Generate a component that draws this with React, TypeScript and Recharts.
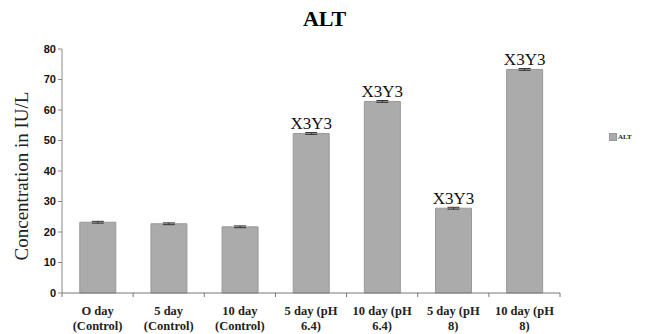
import { BarChart, Bar, XAxis, YAxis, ErrorBar, LabelList, Legend } from 'recharts'

const categories = ['O day|(Control)', '5 day|(Control)', '10 day|(Control)', '5 day (pH|6.4)', '10 day (pH|6.4)', '5 day (pH|8)', '10 day (pH|8)']
const altValues = [23.2, 22.7, 21.7, 52.3, 62.8, 27.8, 73.3]
const altErrors = [0.3, 0.3, 0.3, 0.3, 0.3, 0.3, 0.3]
const groupLabels = ['', '', '', 'X3Y3', 'X3Y3', 'X3Y3', 'X3Y3']
const yTicks = [0, 10, 20, 30, 40, 50, 60, 70, 80]
const boundaryTicks = [0, 1, 2, 3, 4, 5, 6, 7]

const data = categories.map((c, i) => ({
  name: c,
  ALT: altValues[i],
  err: altErrors[i],
  tag: groupLabels[i],
  pos: i + 0.5,
}))

const serif = '"Liberation Serif", "DejaVu Serif", serif'
const sans = '"Liberation Sans", Arial, sans-serif'

const CategoryTick = (props: any) => {
  const { x, y, payload } = props
  const lines = String(payload.value).split('|')
  return (
    <text x={x} y={y} textAnchor="middle" fontFamily={serif} fontSize={12.5} fontWeight="bold" fill="#222">
      {lines.map((l, i) => (
        <tspan key={i} x={x} dy={i === 0 ? 12 : 15}>{l}</tspan>
      ))}
    </text>
  )
}

const LegendBox = () => (
  <div style={{ display: 'flex', alignItems: 'center', fontFamily: serif, fontSize: 7, fontWeight: 'bold', color: '#222' }}>
    <span style={{ width: 6, height: 6, background: '#ababab', border: '1px solid #999', marginRight: 1, display: 'inline-block' }} />
    ALT
  </div>
)

export default function App() {
  return (
    <div style={{ position: 'absolute', left: 0, top: 0, width: 649, height: 334, background: '#fff' }}>
      <div style={{ position: 'absolute', left: 0, width: 649, top: 6, textAlign: 'center', fontFamily: serif, fontWeight: 'bold', fontSize: 22, boxSizing: 'border-box' }}>
        ALT
      </div>
      <div style={{ position: 'absolute', left: 22, top: 176, width: 0, height: 0 }}>
        <div style={{ position: 'absolute', transform: 'translate(-50%, -50%) rotate(-90deg)', whiteSpace: 'nowrap', fontFamily: serif, fontSize: 19, color: '#222' }}>
          Concentration in IU/L
        </div>
      </div>
      <BarChart width={649} height={334} data={data} margin={{ top: 49, right: 49, left: 22, bottom: 0 }} barCategoryGap="25%">
        <XAxis xAxisId="base" dataKey="pos" type="number" domain={[0, 7]} ticks={boundaryTicks} height={2} axisLine={{ stroke: '#777' }} tickLine={{ stroke: '#777' }} tickSize={4} tickFormatter={() => ''} />
        <XAxis xAxisId="names" dataKey="name" interval={0} axisLine={false} tickLine={false} height={39} tick={<CategoryTick />} />
        <YAxis domain={[0, 80]} ticks={yTicks} width={40} axisLine={{ stroke: '#888' }} tickLine={{ stroke: '#888' }} tickSize={4} tick={{ fontFamily: sans, fontSize: 11, fontWeight: 'bold', fill: '#111' }} />
        <Legend layout="vertical" verticalAlign="top" align="right" wrapperStyle={{ position: 'absolute', left: 609, top: 133, width: 40 }} content={<LegendBox />} />
        <Bar xAxisId="names" dataKey="ALT" fill="#ababab" stroke="#999" strokeWidth={1} isAnimationActive={false}>
          <ErrorBar dataKey="err" width={6} stroke="#333" strokeWidth={1} />
          <LabelList dataKey="tag" position="top" offset={4} style={{ fontFamily: serif, fontSize: 17, fill: '#111' }} />
        </Bar>
      </BarChart>
    </div>
  )
}
